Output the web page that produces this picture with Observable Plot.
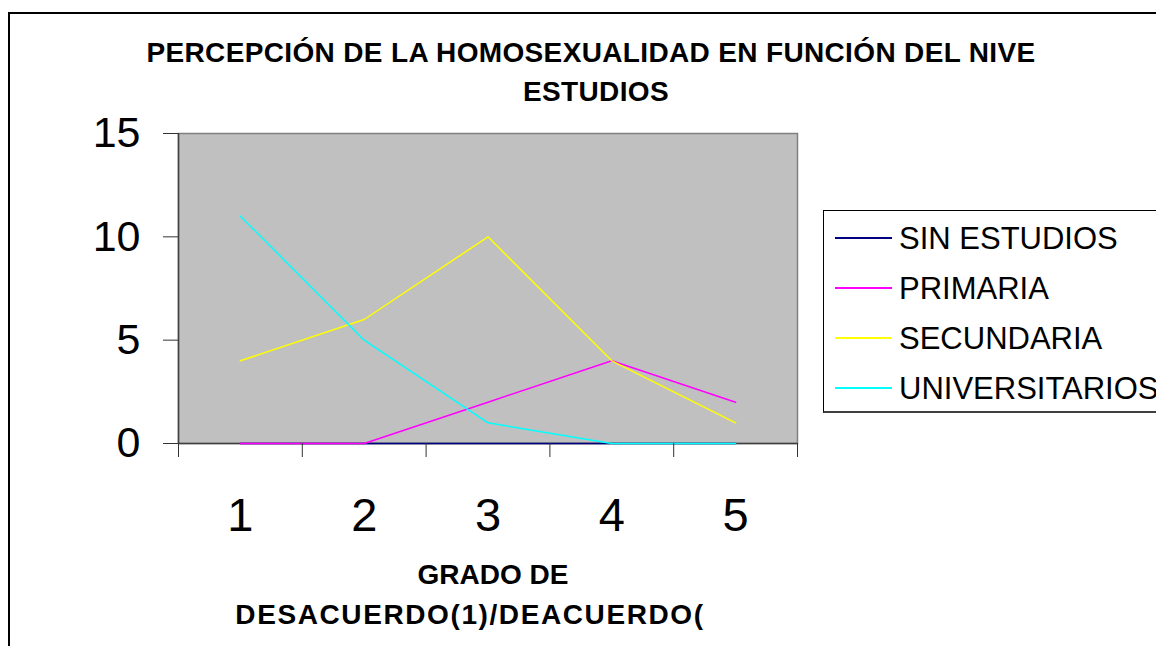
<!DOCTYPE html>
<html>
<head>
<meta charset="utf-8">
<script src="https://cdn.jsdelivr.net/npm/d3@7"></script>
<script src="https://cdn.jsdelivr.net/npm/@observablehq/plot@0.6"></script>
<style>
  html, body { margin: 0; padding: 0; background: #fff; overflow: hidden; }
  #wrap { position: relative; width: 1156px; height: 646px; overflow: hidden; font-family: "Liberation Sans", Arial, sans-serif; }
  #wrap svg { position: absolute; left: 0; top: 0; }
  .abs { position: absolute; white-space: nowrap; color: #000; }
  .bold { font-weight: bold; }
</style>
</head>
<body>
<div id="wrap"></div>
<script>
// ---- data ----
const grades = [1, 2, 3, 4, 5];
const seriesNames = ["SIN ESTUDIOS", "PRIMARIA", "SECUNDARIA", "UNIVERSITARIOS"];
const seriesColors = ["#000080", "#ff00ff", "#ffff00", "#00ffff"];
const sinEstudios = [0, 0, 0, 0, 0];
const primaria = [0, 0, 2, 4, 2];
const secundaria = [4, 6, 10, 4, 1];
const universitarios = [11, 5, 1, 0, 0];
const yTicks = [0, 5, 10, 15];
const xBoundaryTicks = [0.5, 1.5, 2.5, 3.5, 4.5, 5.5];
const titleLines = ["PERCEPCIÓN DE LA HOMOSEXUALIDAD EN FUNCIÓN DEL NIVE", "ESTUDIOS"];
const xTitleLines = ["GRADO DE", "DESACUERDO(1)/DEACUERDO("];

const seriesValues = [sinEstudios, primaria, secundaria, universitarios];
const table = [];
seriesNames.forEach((name, i) => {
  grades.forEach((g, j) => table.push({ serie: name, grade: g, value: seriesValues[i][j] }));
});

const wrap = document.getElementById("wrap");

const chart = Plot.plot({
  width: 1156,
  height: 646,
  marginLeft: 178,
  marginRight: 359,
  marginTop: 133,
  marginBottom: 203,
  style: { fontFamily: "'Liberation Sans', Arial, sans-serif", background: "transparent", overflow: "visible" },
  x: { type: "linear", domain: [0.5, 5.5] },
  y: { domain: [0, 15] },
  color: { domain: seriesNames, range: seriesColors },
  marks: [
    Plot.frame({ fill: "#c0c0c0", stroke: "#808080", strokeWidth: 1.5 }),
    Plot.ruleY([0], { stroke: "#404040", strokeWidth: 1.5 }),
    Plot.ruleX([0.5], { stroke: "#404040", strokeWidth: 1.5 }),
    Plot.line(table, { x: "grade", y: "value", z: "serie", stroke: "serie", strokeWidth: 1.5 }),
    Plot.axisY({ ticks: yTicks, tickSize: 15, tickPadding: 23, fontSize: 43, stroke: "#333", tickFormat: d => String(d), label: null, color: "#000" }),
    Plot.axisX({ ticks: xBoundaryTicks, tickSize: 14, text: null, stroke: "#333", label: null }),
    Plot.axisX({ ticks: grades, tickSize: 0, tickPadding: 54, fontSize: 47, tickFormat: d => String(d), label: null })
  ]
});
wrap.appendChild(chart);

function addText(txt, cx, cy, fs, cls, spacing) {
  const d = document.createElement("div");
  d.className = "abs " + (cls || "");
  d.textContent = txt;
  d.style.fontSize = fs + "px";
  d.style.lineHeight = fs + "px";
  if (spacing) d.style.letterSpacing = spacing + "px";
  d.style.top = (cy - fs / 2) + "px";
  d.style.left = (cx - 600) + "px";
  d.style.width = "1200px";
  d.style.textAlign = "center";
  wrap.appendChild(d);
}

// outer chart border
const border = document.createElement("div");
border.className = "abs";
Object.assign(border.style, { left: "8px", top: "12px", width: "1300px", height: "800px", border: "2px solid #000" });
wrap.appendChild(border);

// title
addText(titleLines[0], 591, 52.5, 28, "bold", 0.35);
addText(titleLines[1], 596, 91.5, 28, "bold", 0.35);
// x axis title
addText(xTitleLines[0], 493, 575, 28, "bold");
addText(xTitleLines[1], 470, 615, 28, "bold", 1.6);

// legend
const box = document.createElement("div");
box.className = "abs";
Object.assign(box.style, { left: "823px", top: "210px", width: "500px", height: "200px", border: "1px solid #000", borderBottom: "2px solid #404040", background: "#fff" });
wrap.appendChild(box);
const rowY = [238, 288, 338, 388];
seriesNames.forEach((name, i) => {
  const ln = document.createElement("div");
  ln.className = "abs";
  Object.assign(ln.style, { left: "835px", top: (rowY[i] - 1) + "px", width: "57px", height: "2px", background: seriesColors[i] });
  wrap.appendChild(ln);
  const t = document.createElement("div");
  t.className = "abs";
  t.textContent = name;
  const fs = 31;
  Object.assign(t.style, { left: "899px", top: (rowY[i] - fs / 2) + "px", fontSize: fs + "px", lineHeight: fs + "px" });
  wrap.appendChild(t);
});
</script>
</body>
</html>
